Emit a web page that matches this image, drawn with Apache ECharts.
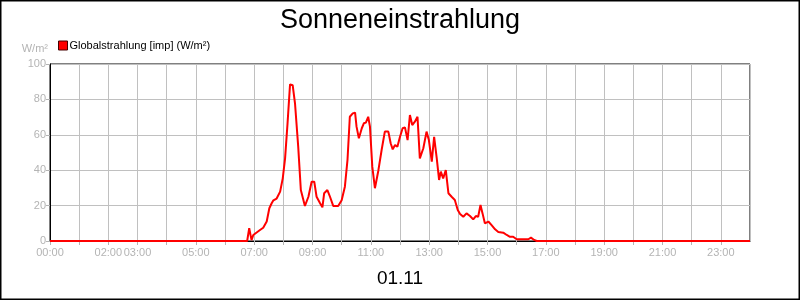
<!DOCTYPE html>
<html>
<head>
<meta charset="utf-8">
<script src="https://cdn.jsdelivr.net/npm/echarts@6/dist/echarts.min.js"></script>
<style>
  html, body { margin: 0; padding: 0; background: #fff; }
  #chart { width: 800px; height: 300px; }
</style>
</head>
<body>
<div id="chart"></div>
<script>
// Messzeitpunkte (Stunden als Dezimalzahl) und Globalstrahlung in W/m²
const hours = [
    0, 6.76, 6.83, 6.91, 6.97, 7.2, 7.31, 7.43, 7.52, 7.6, 7.66, 7.77, 7.89, 7.98,
    8.06, 8.14, 8.23, 8.32, 8.4, 8.51, 8.6, 8.74, 8.86, 8.97, 9.06, 9.14, 9.26,
    9.34, 9.4, 9.51, 9.6, 9.71, 9.88, 10.0, 10.11, 10.2, 10.28, 10.38, 10.46,
    10.51, 10.59, 10.69, 10.76, 10.83, 10.91, 10.97, 11.05, 11.14, 11.26, 11.37,
    11.48, 11.6, 11.68, 11.75, 11.83, 11.91, 12.0, 12.09, 12.17, 12.26, 12.34,
    12.42, 12.51, 12.6, 12.68, 12.8, 12.91, 12.99, 13.09, 13.17, 13.26, 13.34,
    13.4, 13.48, 13.57, 13.66, 13.77, 13.88, 13.98, 14.06, 14.17, 14.28, 14.4,
    14.51, 14.6, 14.68, 14.76, 14.83, 14.91, 15.03, 15.14, 15.26, 15.37, 15.54,
    15.66, 15.77, 15.88, 16.0, 16.17, 16.4, 16.49, 16.6, 16.69, 24
];
const globalstrahlung = [
    0, 0, 7.3, 0.5, 3.4, 6.2, 7.5, 11, 18.5, 21.3, 23, 24, 27.9, 35.4,
    46.7, 65.5, 88.5, 88, 77.8, 53.3, 28.8, 19.8, 25, 33.5, 33.5, 25, 21.3,
    19, 27, 28.8, 25, 19.8, 19.8, 23, 30.7, 45.8, 70.2, 72.1, 72.5,
    64.6, 58, 63.7, 66.5, 66.9, 70.2, 64.6, 42, 29.8, 40, 51.4,
    61.8, 61.8, 55.2, 51.8, 54.2, 53.3, 58.9, 63.7, 64.2, 57, 71.2,
    65.5, 67.4, 70.2, 46.7, 52.4, 61.8, 57, 44.8, 58.9, 46.7, 34.5,
    39.2, 35.4, 40.1, 27, 25, 23.2, 17.5, 15.3, 13.7, 15.6, 14.1,
    12.2, 14.1, 13.7, 20.3, 15.6, 10, 11, 9, 6.6, 5.1, 4.7,
    3.4, 2.4, 2.4, 1, 1, 1, 1.9, 0.6, 0, 0
];
// beschriftete Stunden der x-Achse
const labelHours = [0, 2, 3, 5, 7, 9, 11, 13, 15, 17, 19, 21, 23];
const xTickLabels = ['00:00', '02:00', '03:00', '05:00', '07:00', '09:00', '11:00',
    '13:00', '15:00', '17:00', '19:00', '21:00', '23:00'];

const fontFamily = '"Liberation Sans", Arial, sans-serif';
const labelGray = '#b4b4b4';

const chart = echarts.init(document.getElementById('chart'));

const option = {
    animation: false,
    backgroundColor: '#fff',
    textStyle: { fontFamily: fontFamily },
    title: [
        {
            text: 'Sonneneinstrahlung',
            left: 'center',
            top: 2,
            textStyle: { fontSize: 27, fontWeight: 'normal', color: '#000', fontFamily: fontFamily },
        },
        {
            text: '01.11',
            left: 'center',
            top: 264,
            textStyle: { fontSize: 19, fontWeight: 'normal', color: '#000', fontFamily: fontFamily },
        },
    ],
    legend: {
        left: 53,
        top: 35,
        icon: 'rect',
        itemWidth: 9,
        itemHeight: 9,
        itemGap: 4,
        textStyle: { fontSize: 11, color: '#000', fontFamily: fontFamily, padding: [0, 0, 0, -3] },
        data: [{ name: 'Globalstrahlung [imp] (W/m²)', itemStyle: { borderColor: '#400', borderWidth: 1 } }],
    },
    grid: {
        left: 50,
        right: 50,
        top: 64,
        bottom: 59,
        show: true,
        borderColor: '#000',
        borderWidth: 1,
        containLabel: false,
    },
    xAxis: {
        type: 'value',
        min: 0,
        max: 24,
        interval: 1,
        axisLine: { show: true, lineStyle: { color: '#000', width: 1 } },
        axisTick: { show: true, length: 4, lineStyle: { color: '#b4b4b4' } },
        splitLine: { show: true, lineStyle: { color: '#c0c0c0', width: 1 } },
        axisLabel: {
            color: labelGray,
            fontSize: 11,
            margin: 6,
            showMaxLabel: false,
            formatter: (v) => {
                const i = labelHours.indexOf(v);
                return i >= 0 ? xTickLabels[i] : '';
            },
        },
    },
    yAxis: {
        type: 'value',
        min: 0,
        max: 100,
        interval: 20,
        name: 'W/m²',
        nameLocation: 'end',
        nameGap: 10,
        nameTextStyle: { color: labelGray, fontSize: 11, align: 'right', padding: [0, 2, 0, 0] },
        axisLine: { show: true, lineStyle: { color: '#000', width: 1 } },
        axisTick: { show: true, length: 4, lineStyle: { color: '#b4b4b4' } },
        splitLine: { show: true, lineStyle: { color: '#c0c0c0', width: 1 } },
        axisLabel: { color: labelGray, fontSize: 11, margin: 4 },
    },
    series: [
        {
            name: 'Globalstrahlung [imp] (W/m²)',
            type: 'line',
            data: hours.map((h, i) => [h, globalstrahlung[i]]),
            showSymbol: false,
            symbol: 'none',
            itemStyle: { color: '#ff0000' },
            lineStyle: { color: '#ff0000', width: 2 },
        },
    ],
    graphic: [
        {
            type: 'rect',
            shape: { x: 0.5, y: 0.5, width: 799, height: 299 },
            style: { fill: 'none', stroke: '#000', lineWidth: 2 },
            silent: true,
        },
    ],
};

chart.setOption(option);
</script>
</body>
</html>
